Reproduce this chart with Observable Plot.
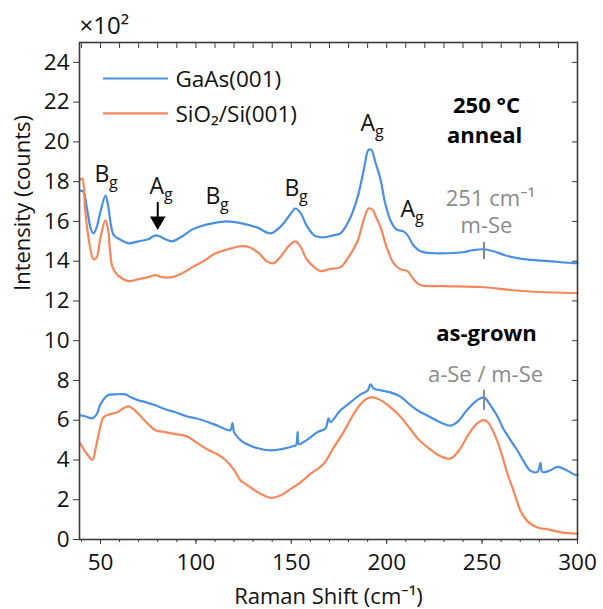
<!DOCTYPE html>
<html>
<head>
<meta charset="utf-8">
<script src="https://cdn.jsdelivr.net/npm/d3@7"></script>
<script src="https://cdn.jsdelivr.net/npm/@observablehq/plot@0.6"></script>
<style>
  html, body { margin: 0; padding: 0; background: #fff; }
</style>
</head>
<body>
<div id="chart"></div>
<script>
// Raman shift (cm^-1), intensity (x100 counts)
const gaasAnneal = [[39.5,17.55],[41,17.5],[43,16.6],[45,15.6],[46.3,15.4],[48,15.7],[50,16.5],[52.6,17.3],[54,16.8],[55.5,15.8],[57,15.3],[60,15.1],[64.7,14.9],[70,15.0],[75,15.1],[78.8,15.3],[81,15.25],[84,15.1],[87.7,15.0],[92,15.2],[98.2,15.6],[104,15.8],[108.7,15.9],[116,16.0],[124,15.9],[132,15.7],[139.1,15.4],[145,15.8],[149,16.3],[152.2,16.65],[155,16.4],[158,15.8],[162,15.3],[166.9,15.2],[172,15.3],[175.8,15.4],[180,16.0],[184.7,17.2],[188,18.6],[190.5,19.6],[192,19.6],[194,19.0],[196.8,18.1],[199,17.0],[202,16.05],[205,15.6],[208.8,15.5],[211,15.3],[214,14.8],[217.7,14.5],[225,14.4],[231.9,14.4],[240,14.45],[245,14.55],[250.7,14.6],[256,14.5],[262,14.3],[271.7,14.1],[285,14.0],[297.9,13.9],[300,13.9]];
const sio2Anneal = [[39.5,18.1],[40.5,18.15],[42,16.55],[44,15.0],[46.3,14.1],[48,14.2],[50,15.2],[52.6,16.05],[54,15.6],[55,14.5],[56.3,13.7],[59,13.3],[64.7,13.0],[70,13.1],[75,13.2],[78.8,13.3],[82,13.2],[87.7,13.2],[93,13.4],[98.2,13.7],[104,14.0],[110.3,14.4],[117,14.6],[123.4,14.75],[128,14.7],[133,14.4],[137,14.0],[140.7,13.9],[145,14.3],[149,14.8],[152.2,15.0],[155,14.7],[158,14.1],[162,13.7],[165.3,13.5],[170,13.6],[175.8,13.7],[180,14.2],[184.7,15.0],[188,16.1],[190.5,16.65],[192.5,16.6],[194.5,16.2],[196.8,15.7],[200,14.7],[203.6,13.9],[207,13.6],[210.9,13.5],[214,13.1],[217.7,12.8],[230,12.75],[249.2,12.7],[265,12.55],[280,12.45],[297.9,12.4],[300,12.4]];
const gaasGrown = [[39.5,6.24],[42,6.2],[45.8,6.1],[48,6.3],[50,6.8],[53.7,7.24],[58,7.3],[63.1,7.3],[66,7.15],[69.9,7.0],[74,6.9],[78.8,6.75],[84,6.55],[89.3,6.4],[95,6.2],[100,6.1],[106.6,5.9],[112,5.7],[118,5.5],[119.2,5.85],[120,5.4],[123.4,5.0],[126,4.83],[132,4.6],[139.1,4.48],[145,4.55],[151.2,4.7],[152.5,4.75],[153.3,5.4],[154,4.8],[158,5.0],[163.7,5.4],[168,5.6],[169.5,6.1],[170.5,5.9],[175.8,6.5],[181,6.9],[186.3,7.3],[190,7.5],[191.5,7.8],[193.1,7.6],[197,7.5],[202,7.4],[207,7.2],[212,6.8],[217,6.45],[222,6.2],[228,5.9],[233.4,5.73],[237,5.9],[242,6.5],[246,6.9],[249.2,7.1],[251,7.15],[254.4,6.75],[258,6.2],[261,5.6],[264.9,5.0],[269,4.4],[272,3.9],[275.4,3.45],[279,3.4],[280.6,3.85],[281.5,3.4],[285,3.45],[289.5,3.65],[294,3.5],[298.9,3.25],[300,3.27]];
const sio2Grown = [[39.5,4.83],[41.5,4.5],[43.7,4.2],[45.8,4.0],[47.5,4.6],[49.5,5.5],[51.6,6.15],[55,6.3],[58.9,6.4],[62,6.6],[64.7,6.7],[68,6.5],[72,6.1],[75,5.8],[78.8,5.5],[84,5.4],[89.3,5.3],[95,5.2],[100,4.9],[106.6,4.5],[111,4.3],[115.5,4.0],[120,3.5],[123.4,2.97],[126,2.8],[132,2.4],[139.1,2.1],[144,2.2],[149,2.5],[154.8,2.87],[160,3.3],[166.9,3.8],[172,4.6],[177.4,5.4],[182,6.2],[186.3,6.8],[190,7.1],[193.1,7.15],[197,7.0],[202,6.65],[207,6.2],[212,5.6],[217,5.0],[222,4.6],[228,4.2],[233.4,4.07],[238,4.5],[243,5.3],[247,5.8],[250.7,6.0],[253,5.9],[256,5.4],[259.6,4.5],[263,3.4],[267,2.3],[270.1,1.45],[274,0.9],[279,0.6],[285,0.5],[292,0.35],[298.9,0.3],[300,0.3]];

const seriesNames = ["GaAs(001)", "SiO₂/Si(001)"];
const seriesColors = ["#4a90e2", "#f7875a"];

const yTicks = [0,2,4,6,8,10,12,14,16,18,20,22,24];
const xTicks = [50,100,150,200,250,300];
const xMinorTicks = [40,50,60,70,80,90,100,110,120,130,140,150,160,170,180,190,200,210,220,230,240,250,260,270,280,290,300];

// peak labels: letter, subscript, anchor (left, baseline) in data units
const peakLabels = [
  {x: 46.9, y: 17.96, main: "B", sub: "g"},
  {x: 75.7, y: 17.4, main: "A", sub: "g"},
  {x: 105, y: 16.9, main: "B", sub: "g"},
  {x: 146.4, y: 17.3, main: "B", sub: "g"},
  {x: 186.3, y: 20.57, main: "A", sub: "g"},
  {x: 207.2, y: 16.2, main: "A", sub: "g"}
];
// arrow marking the weak A_g mode
const arrowStem = [{x: 80, y1: 16.95, y2: 16.2}];
const arrowHead = [{x: 80, y: 16.02}];

const boldNotes = [
  {x: 252.3, y: 21.43, text: "250 °C"},
  {x: 251.3, y: 19.92, text: "anneal"},
  {x: 252.3, y: 10.0, text: "as-grown"}
];
const grayNotes = [
  {x: 254.4, y: 16.8, text: "251 cm⁻¹"},
  {x: 252.3, y: 15.44, text: "m-Se"},
  {x: 251.8, y: 7.9, text: "a-Se / m-Se"}
];
const grayTicks = [{x: 251, y1: 14.08, y2: 14.94}, {x: 251, y1: 6.5, y2: 7.5}];

const legendRows = [
  {name: seriesNames[0], color: seriesColors[0], x1: 51.6, x2: 85.6, y: 23.19, tx: 89.3, ty: 22.74},
  {name: seriesNames[1], color: seriesColors[1], x1: 51.6, x2: 85.6, y: 21.43, tx: 89.3, ty: 20.98}
];

const toRows = (arr, s) => arr.map(([x, y]) => ({x, y, s}));
const curves = [
  toRows(gaasAnneal, 0), toRows(sio2Anneal, 1), toRows(gaasGrown, 0), toRows(sio2Grown, 1)
];

const axisColor = "#3a3a3a";
const font = "'Open Sans', 'Noto Sans', sans-serif";

const marks = [];
curves.forEach(rows => {
  marks.push(Plot.line(rows, {x: "x", y: "y", stroke: seriesColors[rows[0].s], strokeWidth: 2.2, curve: "catmull-rom"}));
});
marks.push(
  // axes
  Plot.axisY({ticks: yTicks, tickSize: 6, tickPadding: 4, fontSize: 22.5, label: null, stroke: axisColor, color: "#111"}),
  Plot.axisY({anchor: "right", ticks: yTicks, tickSize: 6, dx: -6, tickFormat: () => "", label: null, stroke: axisColor}),
  Plot.axisX({ticks: xTicks, tickSize: 5, tickPadding: 10, fontSize: 22.5, label: null, stroke: axisColor, color: "#111"}),
  Plot.axisX({ticks: xMinorTicks, tickSize: 3, tickFormat: () => "", label: null, stroke: axisColor}),
  Plot.axisX({anchor: "top", ticks: xMinorTicks, tickSize: 5, dy: 5, tickFormat: () => "", label: null, stroke: axisColor}),
  Plot.frame({stroke: axisColor, strokeWidth: 1.6}),
  // axis titles
  Plot.text(["Intensity (counts)"], {frameAnchor: "left", rotate: -90, dx: -57, fontSize: 22, fill: "#111"}),
  Plot.text(["Raman Shift (cm⁻¹)"], {frameAnchor: "bottom", dy: 64, lineAnchor: "bottom", fontSize: 22, fill: "#111"}),
  Plot.text(["×10²"], {frameAnchor: "top-left", textAnchor: "start", lineAnchor: "bottom", dx: 0, dy: -9, fontSize: 24, fill: "#111"}),
  // legend
  Plot.ruleY(legendRows, {x1: "x1", x2: "x2", y: "y", stroke: "color", strokeWidth: 2.2}),
  Plot.text(legendRows, {x: "tx", y: "ty", text: "name", textAnchor: "start", lineAnchor: "bottom", fontSize: 22.5, fill: "#111"}),
  // peak labels
  Plot.text(peakLabels, {x: "x", y: "y", text: "main", textAnchor: "start", lineAnchor: "bottom", fontSize: 23, fill: "#111"}),
  Plot.text(peakLabels, {x: "x", y: "y", text: "sub", textAnchor: "start", lineAnchor: "bottom", dx: 14.5, dy: 6, fontSize: 16, fill: "#111"}),
  Plot.ruleX(arrowStem, {x: "x", y1: "y1", y2: "y2", stroke: "#000", strokeWidth: 2}),
  Plot.dot(arrowHead, {x: "x", y: "y", symbol: "triangle", r: 5.8, rotate: 180, fill: "#000", stroke: "none"}),
  // notes
  Plot.text(boldNotes, {x: "x", y: "y", text: "text", lineAnchor: "bottom", fontSize: 22, fontWeight: "bold", fill: "#000"}),
  Plot.text(grayNotes, {x: "x", y: "y", text: "text", lineAnchor: "bottom", fontSize: 22, fill: "#8a8a8a"}),
  Plot.ruleX(grayTicks, {x: "x", y1: "y1", y2: "y2", stroke: "#8a8a8a", strokeWidth: 2})
);

const chart = Plot.plot({
  width: 603,
  height: 609,
  marginTop: 42,
  marginBottom: 70,
  marginLeft: 79,
  marginRight: 26,
  style: {fontFamily: font, background: "#fff"},
  x: {domain: [39, 300]},
  y: {domain: [0, 25]},
  marks
});
document.getElementById("chart").appendChild(chart);
</script>
</body>
</html>
